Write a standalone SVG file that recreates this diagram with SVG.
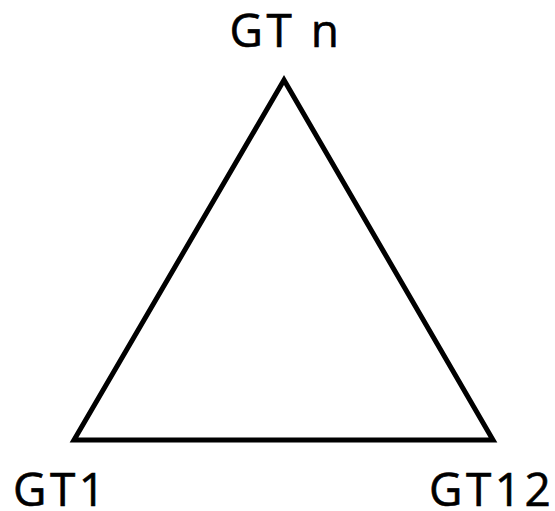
<svg xmlns="http://www.w3.org/2000/svg" width="555" height="511" viewBox="0 0 555 511">
<style>
.lbl{font-family:"Open Sans","Liberation Sans",sans-serif;font-size:46px;fill:#000;letter-spacing:3.5px;stroke:#000;stroke-width:0.6}
.tri{fill:#fff;stroke:#000;stroke-width:5;stroke-linejoin:miter}
</style>
<rect width="555" height="511" fill="#fff"/>
<g id="connectors">
<polygon class="tri" points="284,80 74,440 493,440"/>
</g>
<g id="node-gtn"><text class="lbl" x="286" y="47" text-anchor="middle">GT n</text></g>
<g id="node-gt1"><text class="lbl" x="13" y="506">GT1</text></g>
<g id="node-gt12"><text class="lbl" x="429" y="506">GT12</text></g>
</svg>
